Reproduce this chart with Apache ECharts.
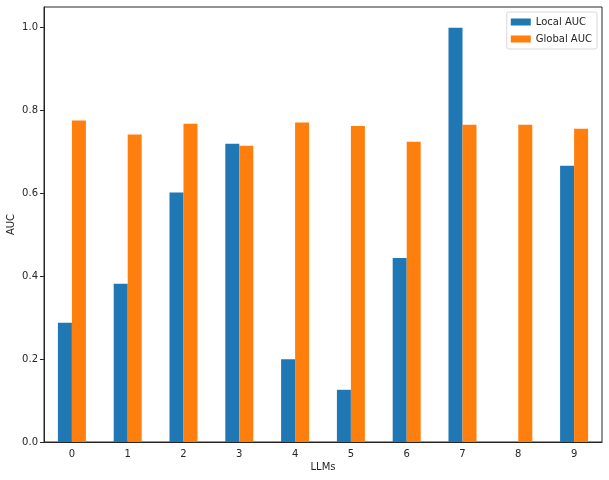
<!DOCTYPE html>
<html>
<head>
<meta charset="utf-8">
<script src="https://cdn.jsdelivr.net/npm/echarts@6/dist/echarts.min.js"></script>
<style>html,body{margin:0;padding:0;background:#fff;}</style>
</head>
<body>
<div id="main" style="width:609px;height:480px;"></div>
<script>
  const categories = ['0', '1', '2', '3', '4', '5', '6', '7', '8', '9'];
  const localAuc = [0.288, 0.382, 0.602, 0.720, 0.200, 0.126, 0.444, 1.0, 0.0, 0.667];
  const globalAuc = [0.776, 0.742, 0.768, 0.715, 0.771, 0.763, 0.725, 0.766, 0.766, 0.756];
  const yTicks = [0, 0.2, 0.4, 0.6, 0.8, 1.0];

  const font = 'DejaVu Sans';
  const chart = echarts.init(document.getElementById('main'));
  const option = {
    animation: false,
    textStyle: {fontFamily: font},
    grid: {
      left: 44, right: 7, top: 7, bottom: 38,
      outerBoundsMode: 'none', containLabel: false,
      show: true, borderColor: '#262626', borderWidth: 1
    },
    legend: {
      right: 12, top: 12,
      orient: 'vertical',
      itemWidth: 20, itemHeight: 7, itemGap: 7,
      padding: [5, 5, 5, 4],
      borderColor: '#d8d8d8', borderWidth: 1, borderRadius: 2,
      textStyle: {fontFamily: font, fontSize: 10, color: '#262626'},
      icon: 'rect',
      data: ['Local AUC', 'Global AUC']
    },
    xAxis: {
      type: 'category',
      data: categories,
      name: 'LLMs',
      nameLocation: 'middle',
      nameGap: 20,
      nameMoveOverlap: false,
      nameTextStyle: {fontFamily: font, fontSize: 10, color: '#262626'},
      axisLine: {lineStyle: {color: '#262626'}},
      axisTick: {alignWithLabel: true, length: 4, lineStyle: {color: '#262626'}},
      axisLabel: {fontFamily: font, fontSize: 10, color: '#262626', margin: 7}
    },
    yAxis: {
      type: 'value',
      min: 0, max: 1.05, interval: 0.2,
      name: 'AUC',
      nameLocation: 'middle',
      nameGap: 28,
      nameMoveOverlap: false,
      nameTextStyle: {fontFamily: font, fontSize: 10, color: '#262626'},
      splitLine: {show: false},
      axisLine: {show: true, lineStyle: {color: '#262626'}},
      axisTick: {show: true, length: 4, lineStyle: {color: '#262626'}},
      axisLabel: {
        fontFamily: font, fontSize: 10, color: '#262626', margin: 6,
        showMaxLabel: false,
        formatter: v => yTicks.some(t => Math.abs(t - v) < 1e-9) ? v.toFixed(1) : ''
      }
    },
    series: [
      {name: 'Local AUC', type: 'bar', data: localAuc, barWidth: 14, barGap: '0%',
       itemStyle: {color: '#1f77b4'}},
      {name: 'Global AUC', type: 'bar', data: globalAuc, barWidth: 14, barGap: '0%',
       itemStyle: {color: '#ff7f0e'}}
    ]
  };
  chart.setOption(option);
</script>
</body>
</html>
